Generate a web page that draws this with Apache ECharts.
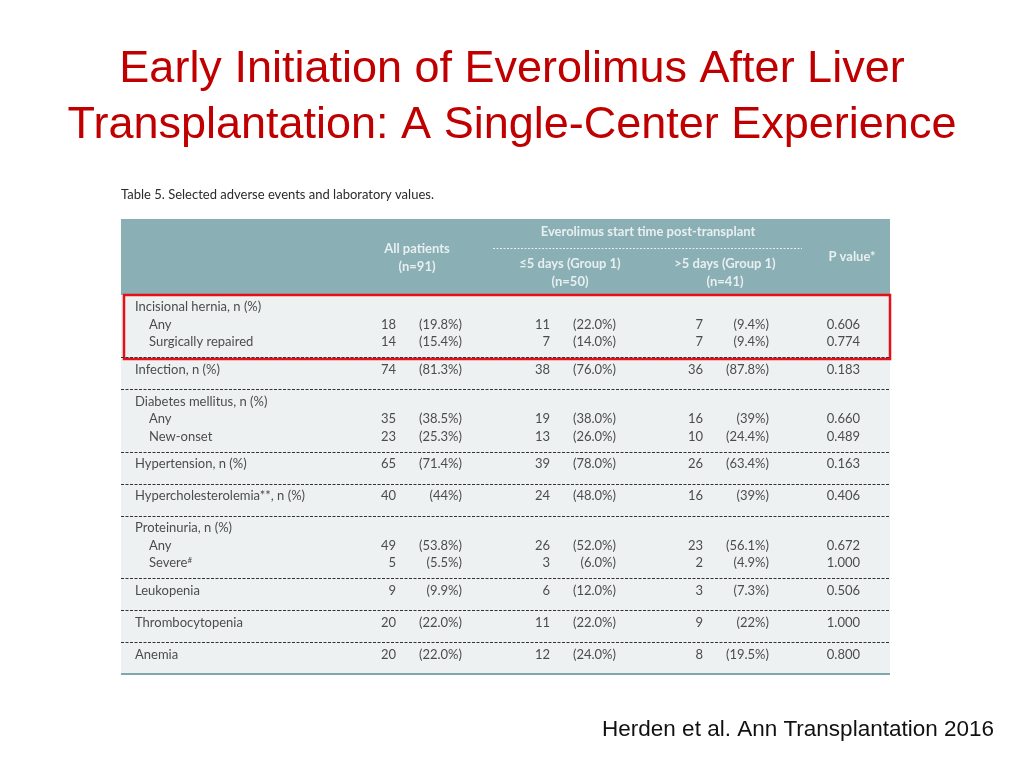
<!DOCTYPE html>
<html>
<head>
<meta charset="utf-8">
<script src="https://cdn.jsdelivr.net/npm/echarts@6/dist/echarts.min.js"></script>
<style>html,body{margin:0;padding:0;background:#fff;}#c{width:1024px;height:768px;}</style>
</head>
<body>
<div id="c"></div>
<script>
// ---------------- DATA ----------------
const slideTitle = 'Early Initiation of Everolimus After Liver\nTransplantation: A Single-Center Experience';
const sourceNote = 'Herden et al. Ann Transplantation 2016';
const tableCaption = 'Table 5. Selected adverse events and laboratory values.';
const groupHeader = 'Everolimus start time post-transplant';
const columnHeads = [['All patients', '(n=91)'], ['≤5 days (Group 1)', '(n=50)'], ['>5 days (Group 1)', '(n=41)'], ['P value*']];

const sectionTitles = ['Incisional hernia, n (%)', 'Infection, n (%)', 'Diabetes mellitus, n (%)', 'Hypertension, n (%)',
  'Hypercholesterolemia**, n (%)', 'Proteinuria, n (%)', 'Leukopenia', 'Thrombocytopenia', 'Anemia'];
const sectionSubRows = [['Any', 'Surgically repaired'], [], ['Any', 'New-onset'], [], [], ['Any', 'Severe#'], [], [], []];
// one entry per line that carries values, in table order
const allN   = [18, 14, 74, 35, 23, 65, 40, 49, 5, 9, 20, 20];
const allPct = ['19.8', '15.4', '81.3', '38.5', '25.3', '71.4', '44', '53.8', '5.5', '9.9', '22.0', '22.0'];
const g1N    = [11, 7, 38, 19, 13, 39, 24, 26, 3, 6, 11, 12];
const g1Pct  = ['22.0', '14.0', '76.0', '38.0', '26.0', '78.0', '48.0', '52.0', '6.0', '12.0', '22.0', '24.0'];
const g2N    = [7, 7, 36, 16, 10, 26, 16, 23, 2, 3, 9, 8];
const g2Pct  = ['9.4', '9.4', '87.8', '39', '24.4', '63.4', '39', '56.1', '4.9', '7.3', '22', '19.5'];
const pValues = ['0.606', '0.774', '0.183', '0.660', '0.489', '0.163', '0.406', '0.672', '1.000', '0.506', '1.000', '0.800'];
const highlightedSection = 0;

// ---------------- LAYOUT (table units = px) ----------------
const L = {
  left: 121, top: 219, width: 769, headerH: 76,
  padTop: 12, pitch: 17.5, padBottom: 15.5, minSecH: 32,
  xTitle: 14, xIndent: 28,
  valueCols: [275, 341, 429, 495, 582, 648, 739],
  headCols: [296, 449, 604, 731],
  headRows: [[30, 48], [45, 63], [45, 63], [38]],
  groupY: 13, groupX: 527, groupLine: [372, 681, 29]
};
const bodyFont = 'Lato';
const teal = '#8aafb5';

// build lines from structure
const lines = [], seps = [];
let yCur = L.headerH;
sectionTitles.forEach((t, s) => {
  const subs = sectionSubRows[s];
  const h = Math.max(L.minSecH, L.padTop + subs.length * L.pitch + L.padBottom);
  lines.push({ y: yCur + L.padTop, text: t, x: L.xTitle, values: subs.length === 0 });
  subs.forEach((st, i) => lines.push({ y: yCur + L.padTop + (i + 1) * L.pitch, text: st, x: L.xIndent, values: true }));
  yCur += h;
  seps.push(yCur);
});
const totalH = yCur;

const bodyItems = [];
let vi = 0;
lines.forEach(ln => {
  bodyItems.push({ value: [ln.x, ln.y], txt: ln.text.replace('#', '{sup|#}'), label: { align: 'left' } });
  if (ln.values) {
    const cells = [String(allN[vi]), '(' + allPct[vi] + '%)', String(g1N[vi]), '(' + g1Pct[vi] + '%)',
      String(g2N[vi]), '(' + g2Pct[vi] + '%)', pValues[vi]];
    cells.forEach((c, k) => bodyItems.push({ value: [L.valueCols[k], ln.y], txt: c, label: { align: 'right' } }));
    vi++;
  }
});

const headItems = [];
columnHeads.forEach((h, k) => {
  h.forEach((t, r) => headItems.push({ value: [L.headCols[k], L.headRows[k][r]], txt: t }));
});
headItems.push({ value: [L.groupX, L.groupY], txt: groupHeader });

const sepLines = seps.slice(0, -1).map(y => [{ coord: [0, y] }, { coord: [L.width, y] }]);

const chart = echarts.init(document.getElementById('c'), null, { renderer: 'canvas' });
chart.setOption({
  animation: false,
  backgroundColor: '#ffffff',
  title: [
    { text: slideTitle, left: 'center', top: 42, padding: 0,
      textStyle: { fontFamily: 'Liberation Sans', fontSize: 45, fontWeight: 'normal', color: '#c00000', lineHeight: 56 } },
    { text: tableCaption, left: 121, top: 188, padding: 0,
      textStyle: { fontFamily: bodyFont, fontSize: 13, fontWeight: 'normal', color: '#2a2a2a' } },
    { text: sourceNote, right: 30, top: 718, padding: 0,
      textStyle: { fontFamily: 'Liberation Sans', fontSize: 22.5, fontWeight: 'normal', color: '#111' } }
  ],
  grid: { left: L.left, top: L.top, width: L.width, height: totalH, containLabel: false },
  xAxis: { type: 'value', min: 0, max: L.width, show: false },
  yAxis: { type: 'value', min: 0, max: totalH, inverse: true, show: false },
  series: [
    {
      type: 'scatter', name: 'body', silent: true, symbolSize: 0, z: 3,
      data: bodyItems,
      label: {
        show: true, position: 'inside', verticalAlign: 'middle',
        formatter: p => p.data.txt,
        fontFamily: bodyFont, fontSize: 13, color: '#222',
        rich: { sup: { fontSize: 8, padding: [0, 0, 6, 0], color: '#222', fontFamily: bodyFont } }
      },
      markArea: {
        silent: true,
        data: [
          [{ coord: [0, 0], itemStyle: { color: teal, borderWidth: 0 } }, { coord: [L.width, L.headerH] }],
          [{ coord: [0, L.headerH], itemStyle: { color: '#eef1f2', borderWidth: 0 } }, { coord: [L.width, totalH] }]
        ]
      },
      markLine: {
        silent: true, symbol: 'none', label: { show: false },
        lineStyle: { color: '#333', width: 1, type: [3, 1.5] },
        data: sepLines.concat([
          [{ coord: [0, totalH - 1], lineStyle: { color: '#7fa7ad', width: 2, type: 'solid' } }, { coord: [L.width, totalH - 1] }],
          [{ coord: [L.groupLine[0], L.groupLine[2]], lineStyle: { color: '#e6eeef', width: 1, type: [2, 1.5] } }, { coord: [L.groupLine[1], L.groupLine[2]] }]
        ])
      }
    },
    {
      type: 'scatter', name: 'head', silent: true, symbolSize: 0, z: 4,
      data: headItems,
      label: {
        show: true, position: 'inside', align: 'center', verticalAlign: 'middle',
        formatter: p => p.data.txt,
        fontFamily: bodyFont, fontSize: 13, fontWeight: 'bold', color: '#ffffff'
      },
      markArea: {
        silent: true,
        data: [
          [{ coord: [3, L.headerH], itemStyle: { color: 'rgba(0,0,0,0)', borderColor: '#e3101a', borderWidth: 2.5 } },
           { coord: [L.width, seps[highlightedSection] + 1.5] }]
        ]
      }
    }
  ]
});
</script>
</body>
</html>
